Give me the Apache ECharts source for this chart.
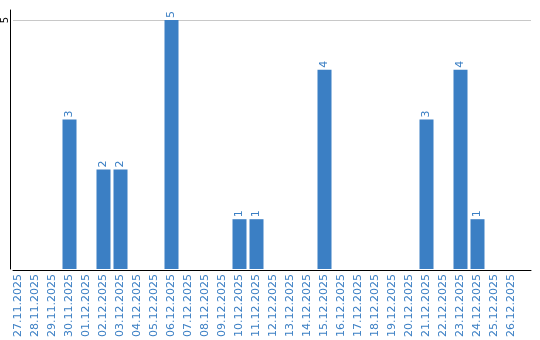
<!DOCTYPE html>
<html><head><meta charset="utf-8">
<script src="https://cdn.jsdelivr.net/npm/echarts@6/dist/echarts.min.js"></script>
<style>html,body{margin:0;padding:0;background:#fff}#c{width:540px;height:340px}</style>
</head><body><div id="c"></div>
<script>
var categories = ["27.11.2025","28.11.2025","29.11.2025","30.11.2025","01.12.2025","02.12.2025","03.12.2025","04.12.2025","05.12.2025","06.12.2025","07.12.2025","08.12.2025","09.12.2025","10.12.2025","11.12.2025","12.12.2025","13.12.2025","14.12.2025","15.12.2025","16.12.2025","17.12.2025","18.12.2025","19.12.2025","20.12.2025","21.12.2025","22.12.2025","23.12.2025","24.12.2025","25.12.2025","26.12.2025"];
var values = [null,null,null,3,null,2,2,null,null,5,null,null,null,1,1,null,null,null,4,null,null,null,null,null,3,null,4,1,null,null];
var yTicks = [5];
var blue = '#3b7fc4';
var chart = echarts.init(document.getElementById('c'), null, {renderer:'canvas'});
chart.setOption({
  animation:false,
  textStyle:{fontFamily:'DejaVu Sans'},
  grid:[
    {left:10, top:10, width:510, height:260},
    {left:10, top:20, right:9, height:250}
  ],
  xAxis:[
    {type:'category', gridIndex:0, data:categories, boundaryGap:true,
     axisLine:{show:false}, axisTick:{show:false},
     axisLabel:{rotate:90, interval:0, margin:5, color:blue, fontSize:11, fontFamily:'DejaVu Sans'}},
    {type:'value', gridIndex:1, min:0, max:1,
     axisLine:{show:true, onZero:false, lineStyle:{color:'#000', width:1}},
     axisTick:{show:false}, axisLabel:{show:false}, splitLine:{show:false}}
  ],
  yAxis:[
    {type:'value', gridIndex:0, min:0, max:5.2,
     axisLine:{show:true, lineStyle:{color:'#000', width:1}},
     axisTick:{show:false}, axisLabel:{show:false}, splitLine:{show:false}},
    {type:'value', gridIndex:1, min:0, max:5, interval:5,
     axisLine:{show:false},
     axisTick:{show:false},
     splitLine:{show:true, lineStyle:{color:'#c8c8c8', width:1}},
     axisLabel:{rotate:90, margin:3, fontSize:10, color:'#000', fontFamily:'DejaVu Sans',
       formatter:function(v){return yTicks.indexOf(v)>=0 ? String(v) : '';}}}
  ],
  series:[{
    type:'bar', xAxisIndex:0, yAxisIndex:0, data:values, barWidth:14,
    itemStyle:{color:blue},
    label:{show:true, position:'top', rotate:90, align:'left', verticalAlign:'middle',
      distance:2, color:blue, fontSize:11, fontFamily:'DejaVu Sans'}
  }]
});
</script></body></html>
